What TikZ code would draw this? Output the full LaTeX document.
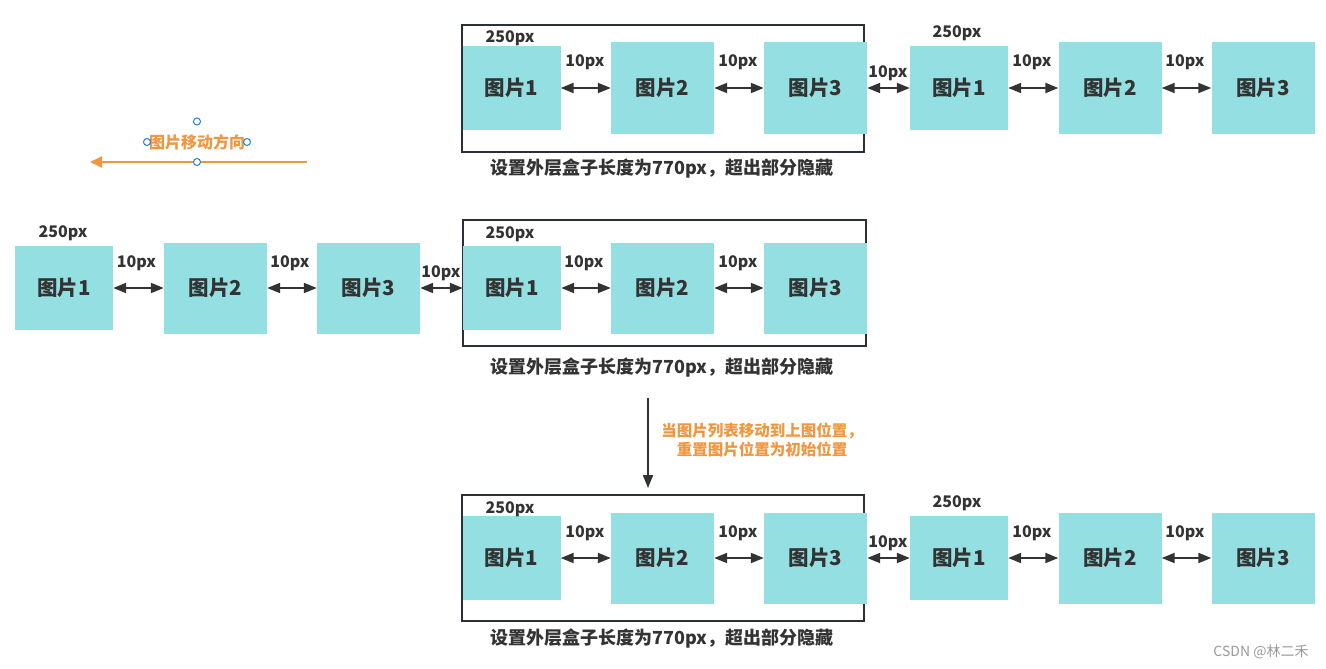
\documentclass[tikz,border=0pt]{standalone}
\usepackage{fontspec}
\setmainfont{Noto Sans CJK SC}
\usetikzlibrary{arrows.meta}
\definecolor{boxc}{HTML}{94DFE1}
\definecolor{txt}{HTML}{333333}
\definecolor{frame}{HTML}{2B3036}
\definecolor{orng}{HTML}{F0963F}
\definecolor{hnd}{HTML}{1E7FE0}
\definecolor{wm}{HTML}{9A9A9A}
\tikzset{
  imgbox/.style={fill=boxc, draw=none, inner sep=0pt, text=txt, font=\fontsize{20.5}{24}\selectfont\bfseries},
  smallbox/.style={imgbox, minimum width=98pt, minimum height=84pt},
  bigbox/.style={imgbox, minimum width=103pt, minimum height=91pt},
  outerbox/.style={draw=frame, line width=2pt, fill=none, inner sep=0pt},
  lbltxt/.style={text=txt, inner sep=0pt, font=\fontsize{16}{19}\selectfont\bfseries},
  captxt/.style={text=txt, inner sep=0pt, font=\fontsize{18}{21}\selectfont\bfseries},
  dar/.style={{Triangle[length=13pt,width=10pt]}-{Triangle[length=13pt,width=10pt]}, line width=2pt, draw=txt},
  handle/.style={circle, draw=hnd, fill=white, line width=1pt, minimum size=7pt, inner sep=0pt},
}
\begin{document}
\begin{tikzpicture}[x=1pt, y=-1pt]
\useasboundingbox[fill=white] (0,0) rectangle (1326,669);

% ---------- Row A ----------
\node[outerbox, minimum width=402pt, minimum height=127pt] (oa) at (663,88.5) {};
\node[smallbox] (a1) at (511.5,88) {图片1};
\node[bigbox]   (a2) at (662.5,88) {图片2};
\node[bigbox]   (a3) at (815.5,88) {图片3};
\node[smallbox] (a4) at (959,88) {图片1};
\node[bigbox]   (a5) at (1110,88) {图片2};
\node[bigbox]   (a6) at (1263,88) {图片3};
\draw[dar] (a1.east) -- (a2.west);
\draw[dar] (a2.east) -- (a3.west);
\draw[dar] (a3.east) -- (a4.west);
\draw[dar] (a4.east) -- (a5.west);
\draw[dar] (a5.east) -- (a6.west);
\node[lbltxt] (wa1) at (510,38) {250px};
\node[lbltxt] (wa4) at (957,33) {250px};
\node[lbltxt] (ga1) at (585,62) {10px};
\node[lbltxt] (ga2) at (738,62) {10px};
\node[lbltxt] (ga3) at (888,73) {10px};
\node[lbltxt] (ga4) at (1032,62) {10px};
\node[lbltxt] (ga5) at (1185,62) {10px};
\node[captxt] (ca) at (662,169) {设置外层盒子长度为770px，超出部分隐藏};

% ---------- direction ----------
\coordinate (ostart) at (307,162);
\coordinate (oend) at (90,162);
\draw[orng, line width=2pt, -{Triangle[length=12pt,width=11pt]}] (ostart) -- (oend);
\node[text=orng, inner sep=0pt, font=\fontsize{16}{19}\selectfont\bfseries] (dir) at (197,142) {图片移动方向};
\node[handle] (h1) at (197,121.5) {};
\node[handle] (h2) at (147,142) {};
\node[handle] (h3) at (247,142) {};
\node[handle] (h4) at (197,162) {};

% ---------- Row B ----------
\node[outerbox, minimum width=403pt, minimum height=126pt] (ob) at (664.5,283) {};
\node[smallbox] (b1) at (64,288) {图片1};
\node[bigbox]   (b2) at (215.5,288) {图片2};
\node[bigbox]   (b3) at (368.5,288) {图片3};
\node[smallbox] (b4) at (512,288) {图片1};
\node[bigbox]   (b5) at (662.5,288) {图片2};
\node[bigbox]   (b6) at (815.5,288) {图片3};
\draw[dar] (b1.east) -- (b2.west);
\draw[dar] (b2.east) -- (b3.west);
\draw[dar] (b3.east) -- (b4.west);
\draw[dar] (b4.east) -- (b5.west);
\draw[dar] (b5.east) -- (b6.west);
\node[lbltxt] (wb1) at (63,233) {250px};
\node[lbltxt] (wb4) at (510,234) {250px};
\node[lbltxt] (gb1) at (136.5,263) {10px};
\node[lbltxt] (gb2) at (290,263) {10px};
\node[lbltxt] (gb3) at (441,273) {10px};
\node[lbltxt] (gb4) at (584,263) {10px};
\node[lbltxt] (gb5) at (738,263) {10px};
\node[captxt] (cb) at (662,368) {设置外层盒子长度为770px，超出部分隐藏};

% ---------- transition ----------
\coordinate (dstart) at (648,398);
\coordinate (dend) at (648,488);
\draw[txt, line width=2pt, -{Triangle[length=13pt,width=10pt]}] (dstart) -- (dend);
\node[text=orng, inner sep=0pt, align=center, font=\fontsize{15.5}{19.5}\selectfont\bfseries] (note) at (762,440) {当图片列表移动到上图位置，\\重置图片位置为初始位置};

% ---------- Row C ----------
\node[outerbox, minimum width=402pt, minimum height=126pt] (oc) at (663,558) {};
\node[smallbox] (c1) at (511.5,558) {图片1};
\node[bigbox]   (c2) at (662.5,558) {图片2};
\node[bigbox]   (c3) at (815.5,558) {图片3};
\node[smallbox] (c4) at (959,558) {图片1};
\node[bigbox]   (c5) at (1110,558) {图片2};
\node[bigbox]   (c6) at (1263,558) {图片3};
\draw[dar] (c1.east) -- (c2.west);
\draw[dar] (c2.east) -- (c3.west);
\draw[dar] (c3.east) -- (c4.west);
\draw[dar] (c4.east) -- (c5.west);
\draw[dar] (c5.east) -- (c6.west);
\node[lbltxt] (wc1) at (510,509) {250px};
\node[lbltxt] (wc4) at (957,503) {250px};
\node[lbltxt] (gc1) at (585,533) {10px};
\node[lbltxt] (gc2) at (738,533) {10px};
\node[lbltxt] (gc3) at (888,543) {10px};
\node[lbltxt] (gc4) at (1032,533) {10px};
\node[lbltxt] (gc5) at (1185,533) {10px};
\node[captxt] (cc) at (662,639) {设置外层盒子长度为770px，超出部分隐藏};

% ---------- watermark ----------
\node[text=wm, inner sep=0pt, font=\fontsize{14}{16}\selectfont] (wmk) at (1261,652) {CSDN @林二禾};
\end{tikzpicture}
\end{document}
